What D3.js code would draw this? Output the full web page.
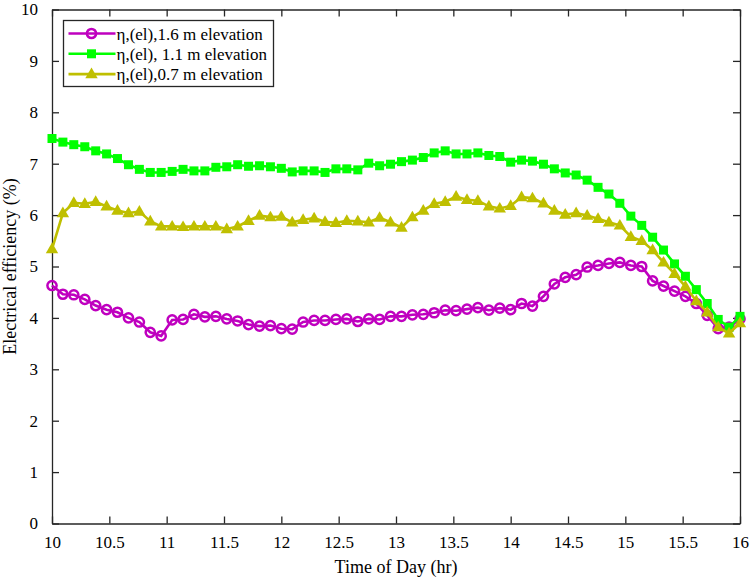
<!DOCTYPE html>
<html>
<head>
<meta charset="utf-8">
<title>Electrical efficiency vs time of day</title>
<script src="https://d3js.org/d3.v7.min.js"></script>
<style>
  body { margin: 0; background: #fff; }
  svg text { font-family: "Liberation Serif", "Times New Roman", serif; fill: #000; }
  .axis path, .axis line { stroke: #262626; }
</style>
</head>
<body>
<div id="chart"></div>
<script>
// time of day (hr)
var hours = [10.000,10.095,10.190,10.286,10.381,10.476,10.571,10.667,10.762,10.857,
             10.952,11.048,11.143,11.238,11.333,11.429,11.524,11.619,11.714,11.810,
             11.905,12.000,12.095,12.190,12.286,12.381,12.476,12.571,12.667,12.762,
             12.857,12.952,13.048,13.143,13.238,13.333,13.429,13.524,13.619,13.714,
             13.810,13.905,14.000,14.095,14.190,14.286,14.381,14.476,14.571,14.667,
             14.762,14.857,14.952,15.048,15.143,15.238,15.333,15.429,15.524,15.619,
             15.714,15.810,15.905,16.000];

// electrical efficiency (%)
var eff16 = [4.63,4.46,4.45,4.36,4.24,4.16,4.11,4.00,3.92,3.72,
             3.65,3.96,3.97,4.07,4.02,4.03,3.98,3.94,3.87,3.84,
             3.85,3.79,3.78,3.92,3.95,3.95,3.97,3.98,3.93,3.98,
             3.97,4.03,4.03,4.06,4.07,4.10,4.15,4.14,4.17,4.20,
             4.15,4.19,4.16,4.28,4.23,4.42,4.66,4.79,4.84,4.99,
             5.02,5.06,5.08,5.02,5.00,4.72,4.62,4.52,4.42,4.28,
             4.05,3.79,3.82,3.98];
var eff11 = [7.49,7.42,7.37,7.33,7.25,7.19,7.10,6.98,6.89,6.83,
             6.83,6.85,6.89,6.86,6.86,6.93,6.94,6.98,6.95,6.96,
             6.94,6.91,6.84,6.86,6.86,6.83,6.90,6.90,6.88,7.01,
             6.96,6.99,7.04,7.07,7.12,7.21,7.25,7.19,7.19,7.21,
             7.16,7.14,7.03,7.07,7.05,6.99,6.90,6.82,6.78,6.68,
             6.54,6.41,6.23,5.98,5.80,5.57,5.32,5.05,4.81,4.55,
             4.28,3.97,3.82,4.03];
var eff07 = [5.34,6.04,6.24,6.22,6.26,6.17,6.09,6.04,6.07,5.88,
             5.78,5.78,5.77,5.78,5.78,5.78,5.73,5.78,5.89,5.99,
             5.96,5.97,5.86,5.91,5.94,5.87,5.85,5.89,5.88,5.86,
             5.95,5.86,5.76,5.96,6.09,6.22,6.26,6.36,6.30,6.28,
             6.17,6.13,6.18,6.35,6.33,6.23,6.09,6.01,6.04,5.99,
             5.93,5.86,5.80,5.58,5.50,5.32,5.08,4.86,4.61,4.33,
             4.11,3.82,3.70,3.90];

var seriesNames = ["\u03b7,(el),1.6 m elevation", "\u03b7,(el), 1.1 m elevation", "\u03b7,(el),0.7 m elevation"];
var xTicks = [10, 10.5, 11, 11.5, 12, 12.5, 13, 13.5, 14, 14.5, 15, 15.5, 16];
var yTicks = [0, 1, 2, 3, 4, 5, 6, 7, 8, 9, 10];

const width = 750, height = 580;
const margin = {top: 9.5, right: 10, bottom: 56.5, left: 52};
const plotWidth = width - margin.left - margin.right;
const plotHeight = height - margin.top - margin.bottom;

var svg = d3.select("#chart").append("svg")
  .attr("width", width)
  .attr("height", height);

var g = svg.append("g")
  .attr("transform", "translate(" + margin.left + "," + margin.top + ")");

var xScale = d3.scaleLinear().domain([10, 16]).range([0, plotWidth]);
var yScale = d3.scaleLinear().domain([0, 10]).range([plotHeight, 0]);

// axes, ticks pointing inward, box on all sides
g.append("g").attr("class", "axis")
  .attr("transform", "translate(0," + plotHeight + ")")
  .call(d3.axisBottom(xScale).tickValues(xTicks).tickSizeInner(-7).tickSizeOuter(0).tickPadding(12).tickFormat(d3.format("")))
  .call(s => s.selectAll("text").style("font-size", "17px"));
g.append("g").attr("class", "axis")
  .call(d3.axisTop(xScale).tickValues(xTicks).tickSizeInner(-7).tickSizeOuter(0).tickFormat(""));
g.append("g").attr("class", "axis")
  .call(d3.axisLeft(yScale).tickValues(yTicks).tickSizeInner(-7).tickSizeOuter(0).tickPadding(14))
  .call(s => s.selectAll("text").style("font-size", "17px"));
g.append("g").attr("class", "axis")
  .attr("transform", "translate(" + plotWidth + ",0)")
  .call(d3.axisRight(yScale).tickValues(yTicks).tickSizeInner(-7).tickSizeOuter(0).tickFormat(""));
g.selectAll(".axis path").attr("stroke-width", 1.3);
g.selectAll(".axis line").attr("stroke-width", 1.3);

// axis titles
svg.append("text")
  .attr("x", margin.left + plotWidth / 2)
  .attr("y", 573)
  .attr("text-anchor", "middle")
  .style("font-size", "18px")
  .text("Time of Day (hr)");
svg.append("text")
  .attr("transform", "translate(16," + (margin.top + plotHeight / 2) + ") rotate(-90)")
  .attr("text-anchor", "middle")
  .style("font-size", "18px")
  .text("Electrical efficiency (%)");

var line = d3.line()
  .x(function(d, i) { return xScale(hours[i]); })
  .y(function(d) { return yScale(d); });

var colors = ["#bf00bf", "#00ff00", "#bfbf00"];
var allSeries = [eff16, eff11, eff07];
var shapes = ["circle", "square", "triangle"];

function drawMarker(sel, shape, color) {
  if (shape === "circle") {
    sel.append("circle").attr("r", 4.6)
      .attr("fill", "none").attr("stroke", color).attr("stroke-width", 2.5);
  } else if (shape === "square") {
    sel.append("rect").attr("x", -4.5).attr("y", -4.5).attr("width", 9).attr("height", 9)
      .attr("fill", color);
  } else {
    sel.append("path").attr("d", "M0,-6.5L6.2,4.2L-6.2,4.2Z").attr("fill", color);
  }
}

allSeries.forEach(function(vals, k) {
  var sg = g.append("g");
  sg.append("path")
    .datum(vals)
    .attr("fill", "none")
    .attr("stroke", colors[k])
    .attr("stroke-width", 2.6)
    .attr("d", line);
  sg.selectAll("g.pt")
    .data(vals)
    .enter().append("g")
    .attr("class", "pt")
    .attr("transform", function(d, i) { return "translate(" + xScale(hours[i]) + "," + yScale(d) + ")"; })
    .each(function() { drawMarker(d3.select(this), shapes[k], colors[k]); });
});

// legend
var legend = svg.append("g").attr("transform", "translate(63.5,20.5)");
legend.append("rect")
  .attr("width", 210).attr("height", 66)
  .attr("fill", "#fff").attr("stroke", "#262626").attr("stroke-width", 1.3);
seriesNames.forEach(function(name, k) {
  var row = legend.append("g").attr("transform", "translate(0," + (13 + k * 20.3) + ")");
  row.append("line").attr("x1", 5).attr("x2", 52)
    .attr("stroke", colors[k]).attr("stroke-width", 2.6);
  drawMarker(row.append("g").attr("transform", "translate(28,0)"), shapes[k], colors[k]);
  row.append("text").attr("x", 53).attr("y", 6)
    .style("font-size", "17px")
    .text(name);
});
</script>
</body>
</html>
